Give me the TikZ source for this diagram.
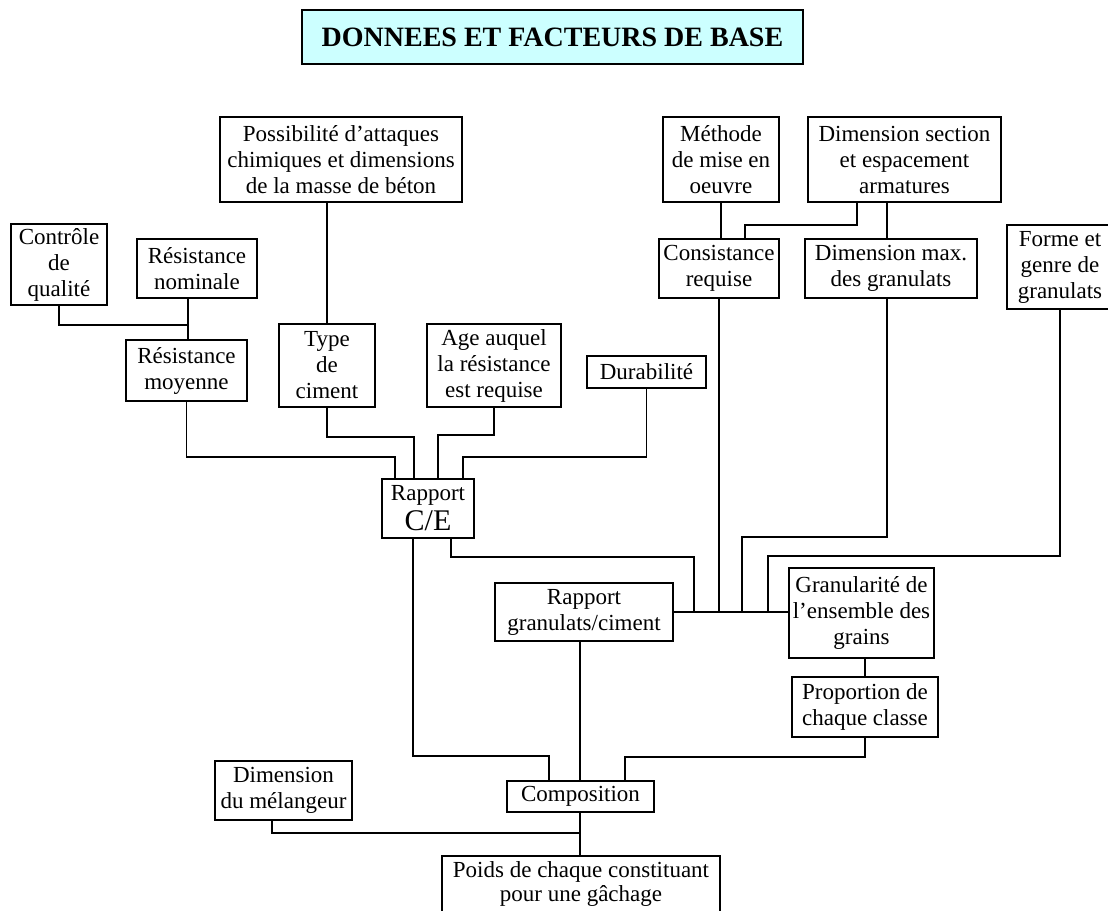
\documentclass[tikz,border=0pt]{standalone}
\usepackage{fontspec}
\setmainfont{Liberation Serif}
\newcommand\mybox[7][]{%
  \pgfmathsetmacro\bw{(#5-#3)*0.5}%
  \pgfmathsetmacro\bh{(#6-#4)*0.5}%
  \node[box, minimum width=\bw pt, minimum height=\bh pt, #1] (#2) at ({(#3+#5)/2},{(#4+#6)/2}) {#7};%
}
\begin{document}
\begin{tikzpicture}[x=0.5pt, y=-0.5pt,
  box/.style={draw, line width=0.8pt, align=center, inner sep=0pt,
    font=\fontsize{11.5}{13}\selectfont},
  link/.style={line width=0.8pt},
  titlebox/.style={box, fill=titlecyan, font=\fontsize{14}{16}\selectfont\bfseries}]
\definecolor{titlecyan}{HTML}{CCFFFF}
\clip (0,0) rectangle (1108,910);
\fill[white] (0,0) rectangle (1108,910);
% boxes
\mybox[titlebox]{title}{302}{10}{803}{64}{DONNEES ET FACTEURS DE BASE}
\mybox{poss}{220}{117}{462}{202}{Possibilité d’attaques\\chimiques et dimensions\\de la masse de béton}
\mybox{meth}{663}{117}{779}{202}{Méthode\\de mise en\\oeuvre}
\mybox{dimsec}{808}{117}{1001}{202}{Dimension section\\et espacement\\armatures}
\mybox{ctrl}{11}{224}{107}{305}{Contrôle\\de\\qualité}
\mybox{resnom}{137}{239}{257}{298}{Résistance\\nominale}
\mybox{consist}{659}{239}{779}{298}{Consistance\\requise}
\mybox{dimmax}{805}{239}{977}{298}{Dimension max.\\des granulats}
\mybox{forme}{1007}{225}{1113}{309}{Forme et\\genre de\\granulats}
\mybox{resmoy}{126}{340}{247}{401}{Résistance\\moyenne}
\mybox{type}{279}{324}{375}{407}{Type\\de\\ciment}
\mybox{age}{427}{324}{561}{407}{Age auquel\\la résistance\\est requise}
\mybox{dura}{587}{356}{706}{388}{Durabilité}
\mybox{rce}{382}{479}{474}{538}{Rapport\\[2pt]{\fontsize{15}{15}\selectfont C/E}}
\mybox{rgc}{495}{583}{673}{641}{Rapport\\granulats/ciment}
\mybox{gran}{789}{568}{934}{658}{Granularité de\\l’ensemble des\\grains}
\mybox{prop}{792}{677}{938}{737}{Proportion de\\chaque classe}
\mybox{melang}{215}{761}{352}{820}{Dimension\\du mélangeur}
\mybox{compo}{507}{781}{654}{812}{Composition}
\mybox[font=\fontsize{11.5}{12}\selectfont]{poids}{442}{856}{720}{912}{Poids de chaque constituant\\pour une gâchage}
% coordinates
\coordinate (j1) at (188,325);
\coordinate (r1) at (395,457);
\coordinate (r2) at (414,437);
\coordinate (r3) at (438,435);
\coordinate (r4) at (463,457);
\coordinate (d1) at (857,225);
\coordinate (d2) at (745,225);
\coordinate (d3) at (887,0);
\coordinate (g1) at (742,537);
\coordinate (g2) at (768,556);
\coordinate (g3) at (694,557);
\coordinate (c0) at (451,0);
\coordinate (c1) at (413,0);
\coordinate (p1) at (625,757);
\coordinate (p2) at (549,756);
\coordinate (p3) at (0,833);
\coordinate (m0) at (272,0);
\coordinate (k0) at (580,0);
% connectors
\begin{scope}[link]
\draw (type.north) -- (type.north |- poss.south);
\draw (ctrl.south) |- (j1);
\draw (resnom.south -| j1) -- (resmoy.north -| j1);
\draw (resmoy.south) |- (r1) -- (r1 |- rce.north);
\draw (type.south) |- (r2) -- (r2 |- rce.north);
\draw (age.south) |- (r3) -- (r3 |- rce.north);
\draw (dura.south) |- (r4) -- (r4 |- rce.north);
\draw (meth.south) -- (meth.south |- consist.north);
\draw (dimsec.south -| d1) -- (d1) -- (d2) -- (d2 |- consist.north);
\draw (dimsec.south -| d3) -- (d3 |- dimmax.north);
\draw (rgc.east) -- (rgc.east -| gran.west);
\draw (consist.south) -- (consist.south |- rgc.east);
\draw (dimmax.south -| d3) |- (g1) -- (g1 |- rgc.east);
\draw (forme.south) |- (g2) -- (g2 |- rgc.east);
\draw (rce.south -| c0) |- (g3) -- (g3 |- rgc.east);
\draw (prop.north) -- (prop.north |- gran.south);
\draw (prop.south) |- (p1) -- (p1 |- compo.north);
\draw (rce.south -| c1) |- (p2) -- (p2 |- compo.north);
\draw (compo.north -| k0) -- (k0 |- rgc.south);
\draw (compo.south -| k0) -- (k0 |- poids.north);
\draw (melang.south -| m0) |- (k0 |- p3);
\end{scope}
\end{tikzpicture}
\end{document}
